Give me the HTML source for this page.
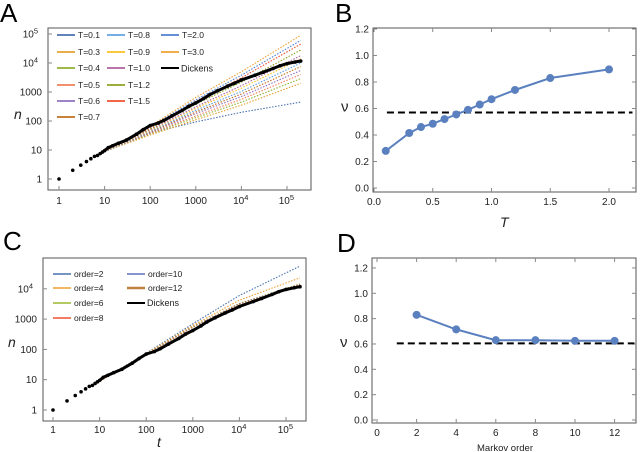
<!DOCTYPE html>
<html><head><meta charset="utf-8"><style>
body{margin:0;background:#fff}
svg{display:block;font-family:"Liberation Sans",sans-serif}
</style></head><body>
<svg id="s" width="640" height="452"></svg>
<script>
// ---- Panel A data ----
const aTemps=["0.1","0.3","0.4","0.5","0.6","0.7","0.8","0.9","1.0","1.2","1.5","2.0","3.0"];
const aColors=["#4a72b0","#e8a030","#8fb030","#f0805a","#9070c0","#c07020","#60a0e0","#f8c020","#b060a0","#90a020","#f05030","#5080d0","#f0a030"];
const aT=[10,100,1000,10000,200000];
const aN=[
[8.7,38,93,200,450],[9,33,110,350,2000],[9,36,130,450,2900],[9,38,150,560,4000],[9,40,180,700,5500],
[9,42,205,850,7500],[9,44,235,1050,10000],[9,47,275,1350,14000],[9,50,310,1650,18000],[9,54,380,2200,28000],
[9,58,470,3100,45000],[9,62,540,3800,60000],[9,66,650,5000,90000]];
const dT=[1,2,3,4,5,6,7,8,9,10,12,15,20,30,50,70,100,150,200,300,500,700,1000,1500,2000,3000,5000,7000,10000,20000,30000,50000,70000,100000,150000,200000];
const dN=[1,2,3,4,5,6,6.5,7.5,8.5,9.5,12,14,17,22,35,50,70,85,105,150,230,320,420,600,800,1100,1600,2000,2600,3800,4800,6500,8000,9500,10800,11700];
// ---- Panel B data ----
const bT=[0.1,0.3,0.4,0.5,0.6,0.7,0.8,0.9,1.0,1.2,1.5,2.0];
const bNu=[0.28,0.415,0.46,0.485,0.52,0.555,0.59,0.63,0.67,0.74,0.83,0.895];
const bRef=0.57;
// ---- Panel C data ----
const cOrders=["2","4","6","8","10","12"];
const cColors=["#4a72b0","#f0a030","#9ab830","#f05030","#6070c0","#c08040"];
const cT=[7,100,1000,10000,200000];
const cN=[[6.5,75,700,6000,56000],[6.5,72,620,4200,23000],[6.5,68,560,3300,14500],[6.5,68,550,3200,14000],[6.5,67,550,3200,13800],[6.5,67,540,3100,13500]];
// ---- Panel D data ----
const dOrd=[2,4,6,8,10,12];
const dNu=[0.83,0.715,0.63,0.63,0.625,0.625];
const dRef=0.605;

const S=document.getElementById('s');const NS="http://www.w3.org/2000/svg";
function el(t,a,p){const e=document.createElementNS(NS,t);for(const k in a)e.setAttribute(k,a[k]);(p||S).appendChild(e);return e;}
function txt(x,y,s,a,p){const e=el('text',Object.assign({x:x,y:y,'font-size':10,fill:'#222'},a||{}),p);e.textContent=s;return e;}
function sup(x,y,base,exp,p){const e=el('text',{x:x,y:y,'font-size':10,fill:'#222','text-anchor':'end'},p);const a=document.createElementNS(NS,'tspan');a.textContent=base;e.appendChild(a);const b=document.createElementNS(NS,'tspan');b.setAttribute('dy','-4');b.setAttribute('font-size','7.5');b.textContent=exp;e.appendChild(b);return e;}
function frame(x0,y0,x1,y1,name){const r=el('rect',{x:x0,y:y0,width:x1-x0,height:y1-y0,fill:'none',stroke:'#555','stroke-width':1});}
function letter(x,y,s){const t=txt(x,y,s,{'font-size':26,fill:'#000'});}
function logLabels(ax,ay,xs,ys,xl,yl,px,py){
 const lbl=['1','10','100','1000'];
 for(let d=0;d<=xs;d++){const x=ax(Math.pow(10,d));
  if(d<4){const t=txt(x,xl,lbl[d],{'text-anchor':'middle'});}
  else{sup(x+7,xl,'10',String(d));}
  el('line',{x1:x,x2:x,y1:py,y2:py-4,stroke:'#888'});}
 for(let d=0;d<=ys;d++){const y=ay(Math.pow(10,d));
  if(d<4){const t=txt(yl,y+3.5,lbl[d],{'text-anchor':'end'});}
  else sup(yl-4,y+3.5,'10',String(d));
  el('line',{x1:px,x2:px+4,y1:y,y2:y,stroke:'#888'});}
}
function pts(xf,yf,xs,ys){return xs.map((v,i)=>xf(v).toFixed(1)+','+yf(ys[i]).toFixed(1)).join(' ');}
function dickens(ax,ay,g){
 const l=el('polyline',{points:pts(ax,ay,dT.slice(9),dN.slice(9)),fill:'none',stroke:'#000','stroke-width':3},g);
 
 dT.forEach((t,i)=>{const c=el('circle',{cx:ax(t),cy:ay(dN[i]),r:1.8,fill:'#000'},g);});
}
// ---------- Panel A ----------
letter(0,22,'A');
const ax=t=>59+45.6*Math.log10(t), ay=n=>179-29*Math.log10(n);
frame(48,28,311,190,'panel-a-frame');
logLabels(ax,ay,5,5,204,42,48,190);
const nA=txt(14,119,'n',{'font-size':14,'font-style':'italic'});
const gA=el('g',{});
aN.forEach((ns,i)=>{const l=el('polyline',{points:pts(ax,ay,aT,ns),fill:'none',stroke:aColors[i],'stroke-width':1.1,'stroke-dasharray':'1.5,1.5'},gA);});
dickens(ax,ay,gA);
// legend A
const legA=el('g',{});
const colX=[57,107,161],rowY=[35,52,68,85,101,117];
const aPos=[[0,0],[0,1],[0,2],[0,3],[0,4],[0,5],[1,0],[1,1],[1,2],[1,3],[1,4],[2,0],[2,1]];
aTemps.forEach((T,i)=>{const [c,r]=aPos[i];const g=el('g',{},legA);
 el('line',{x1:colX[c],x2:colX[c]+18,y1:rowY[r],y2:rowY[r],stroke:aColors[i],'stroke-width':1.8},g);txt(colX[c]+21,rowY[r]+3,'T='+T,{'font-size':8.5},g);});
{const g=el('g',{},legA);
 el('line',{x1:161,x2:179,y1:68,y2:68,stroke:'#000','stroke-width':2},g);txt(181,71.5,'Dickens',{'font-size':9},g);}
// ---------- Panel C ----------
letter(3,250,'C');
const cx=t=>53+46.6*Math.log10(t), cy=n=>410-30.3*Math.log10(n);
frame(43,258,306,421,'panel-c-frame');
logLabels(cx,cy,5,4,433,37,43,421);
const nC=txt(8,347,'n',{'font-size':14,'font-style':'italic'});
const tC=txt(157,447,'t',{'font-size':14,'font-style':'italic'});
const gC=el('g',{});
cN.forEach((ns,i)=>{const l=el('polyline',{points:pts(cx,cy,cT,ns),fill:'none',stroke:cColors[i],'stroke-width':1.1,'stroke-dasharray':'1.5,1.5'},gC);});
dickens(cx,cy,gC);
const legC=el('g',{});
const cPos=[[53,274],[53,288],[53,303],[53,318],[127,274],[127,288]];
cOrders.forEach((o,i)=>{const [x,y]=cPos[i];const g=el('g',{},legC);
 el('line',{x1:x,x2:x+18,y1:y,y2:y,stroke:cColors[i],'stroke-width':i==5?2.5:1.6},g);txt(x+21,y+3,'order='+o,{'font-size':8.5},g);});
{const g=el('g',{},legC);
 el('line',{x1:127,x2:145,y1:303,y2:303,stroke:'#000','stroke-width':2},g);txt(147,306,'Dickens',{'font-size':9},g);}
// ---------- linear panels ----------
function linPanel(o){
 frame(o.x0,o.y0,o.x1,o.y1,o.name+'-frame');
 o.yt.forEach(v=>{const y=o.fy(v);el('line',{x1:o.x0,x2:o.x0+4,y1:y,y2:y,stroke:'#888'});el('line',{x1:o.x1,x2:o.x1-4,y1:y,y2:y,stroke:'#888'});
  const t=txt(o.x0-4,y+3.5,v.toFixed(1),{'text-anchor':'end'});});
 o.xt.forEach(v=>{const x=o.fx(v);el('line',{x1:x,x2:x,y1:o.y1,y2:o.y1-4,stroke:'#888'});el('line',{x1:x,x2:x,y1:o.y0,y2:o.y0+4,stroke:'#888'});
  const t=txt(x,o.y1+13,o.xf(v),{'text-anchor':'middle'});});
 const r=el('line',{x1:o.fx(o.r0),x2:o.fx(o.r1),y1:o.fy(o.ref),y2:o.fy(o.ref),stroke:'#000','stroke-width':2,'stroke-dasharray':'7,4'});
 const l=el('polyline',{points:pts(o.fx,o.fy,o.xs,o.ys),fill:'none',stroke:'#5b80bf','stroke-width':2});
 o.xs.forEach((v,i)=>{const c=el('circle',{cx:o.fx(v),cy:o.fy(o.ys[i]),r:4,fill:'#5b80bf'});});
 const yl=txt(o.x0-32,o.fy(0.6)+3,'ν',{'font-size':15});
}
letter(335,22,'B');
linPanel({name:'panel-b',x0:373,y0:28,x1:636,y1:192,fx:T=>374+117.5*T,fy:v=>188-132.5*v,
 yt:[0,0.2,0.4,0.6,0.8,1.0,1.2],xt:[0,0.5,1.0,1.5,2.0],xf:v=>v.toFixed(1),xs:bT,ys:bNu,ref:bRef,r0:0.11,r1:2.2});
const tB=txt(500,227,'T',{'font-size':14,'font-style':'italic'});
letter(337,252,'D');
linPanel({name:'panel-d',x0:372,y0:258,x1:636,y1:423,fx:k=>377+19.8*k,fy:v=>420-126.7*v,
 yt:[0,0.2,0.4,0.6,0.8,1.0,1.2],xt:[0,2,4,6,8,10,12],xf:v=>String(v),xs:dOrd,ys:dNu,ref:dRef,r0:1,r1:13});
const tD=txt(505,451,'Markov order',{'font-size':9.5,'text-anchor':'middle'});
</script>
</body></html>
